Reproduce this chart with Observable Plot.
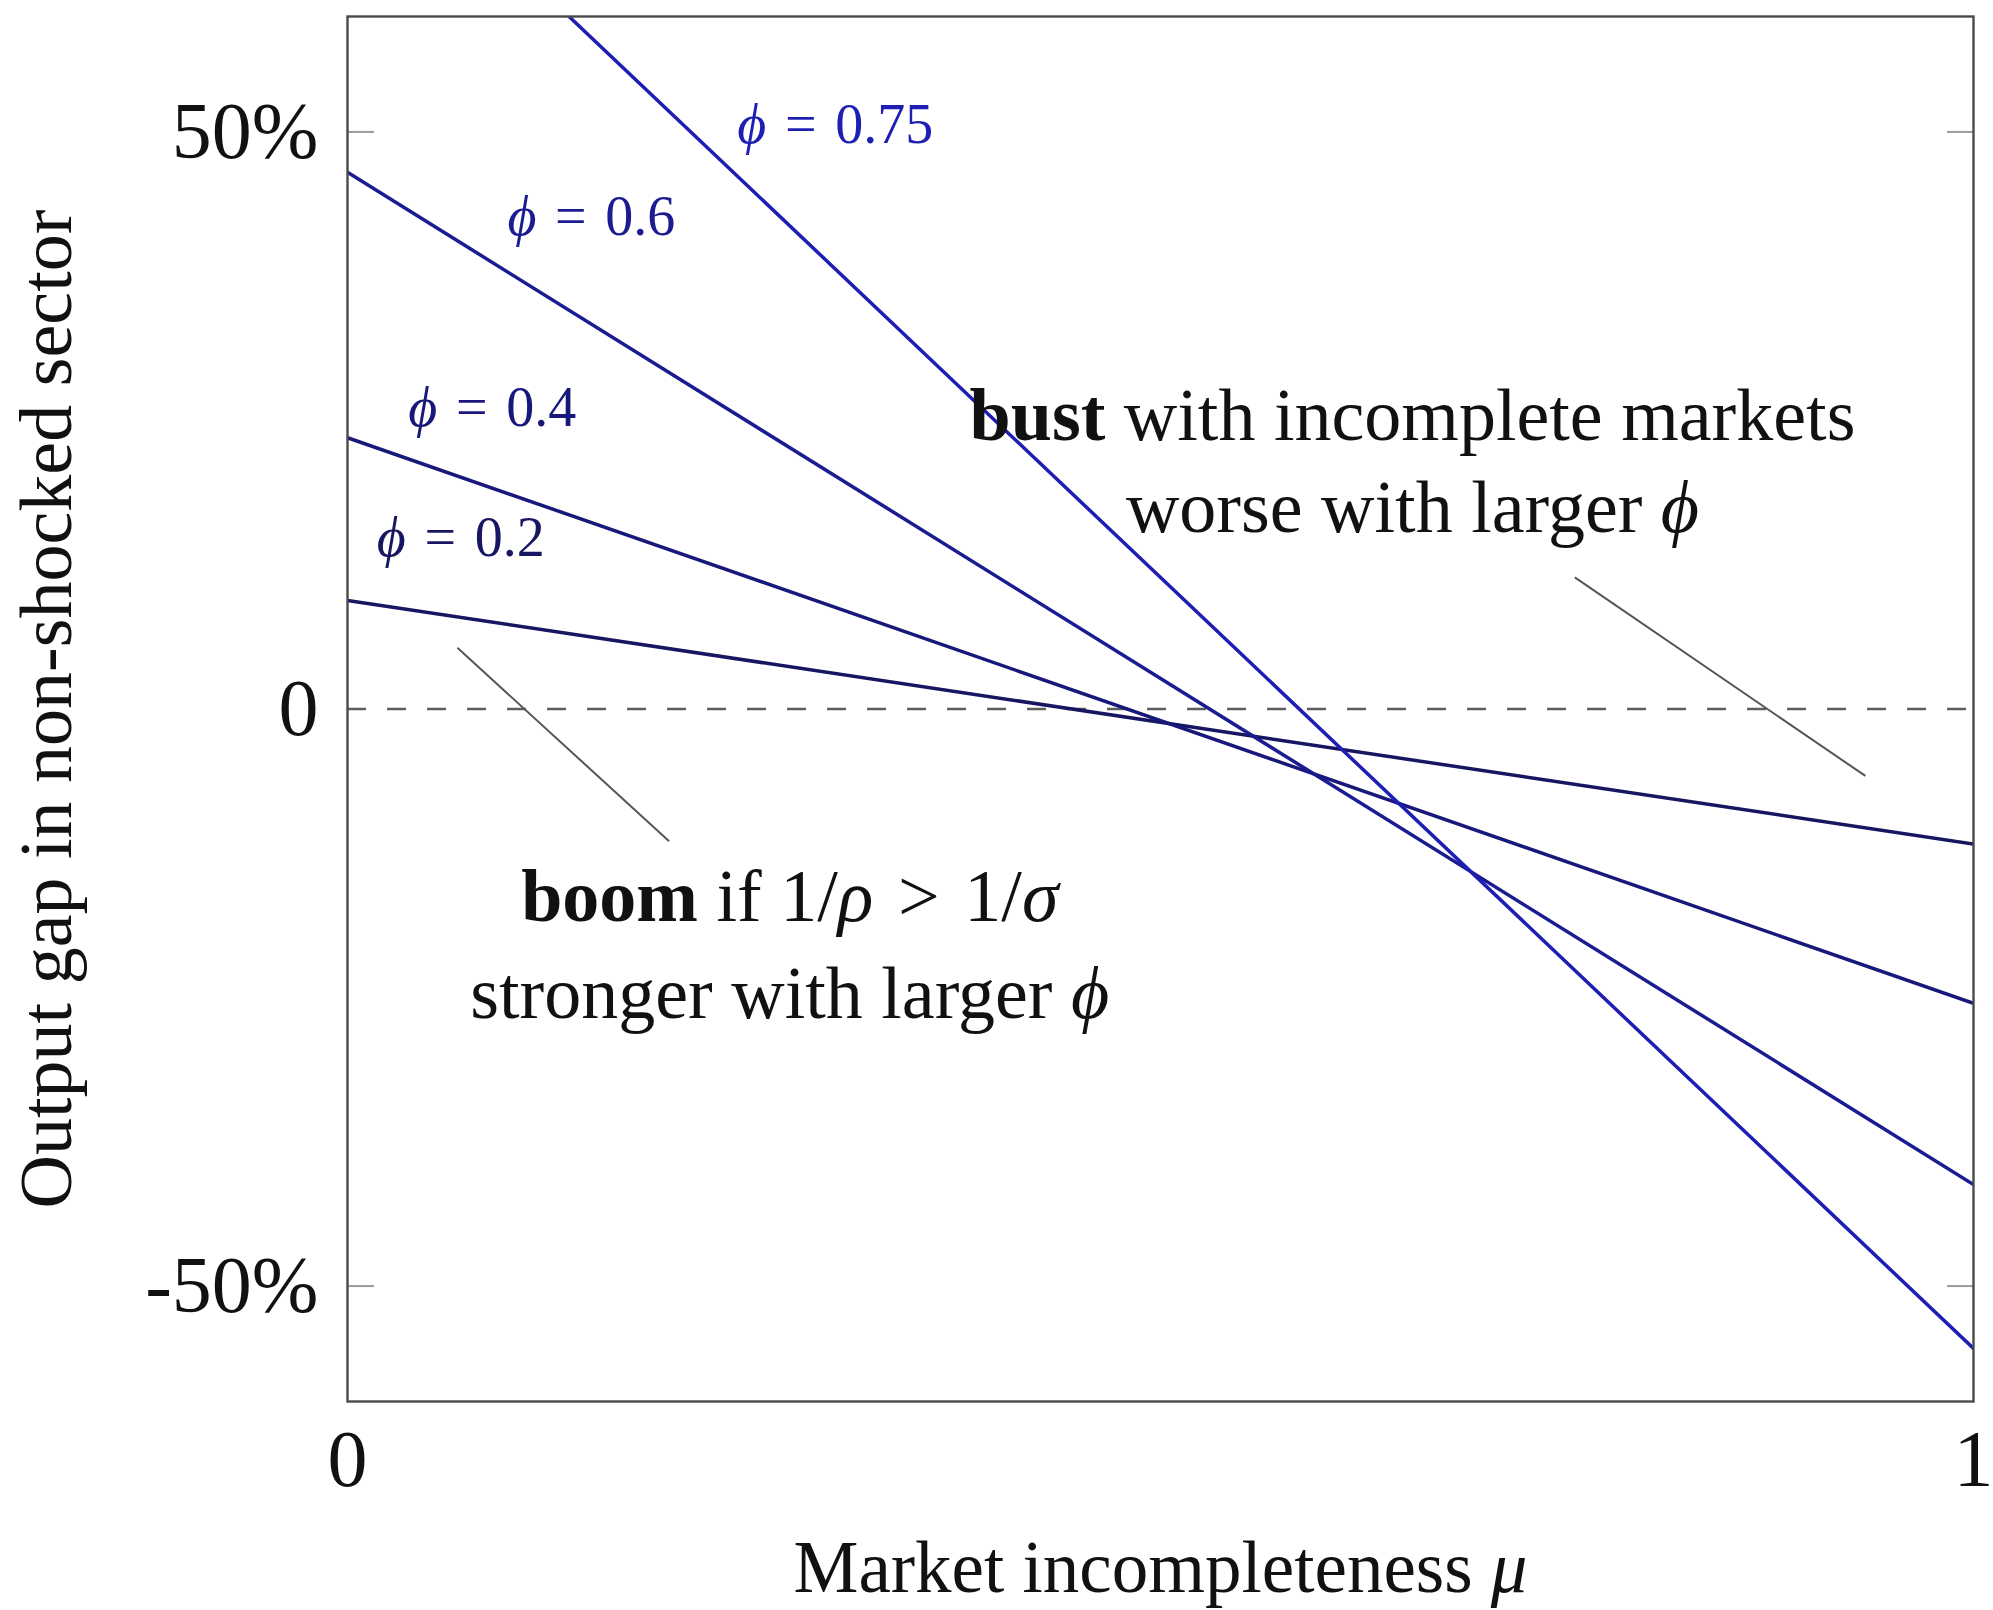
<!DOCTYPE html>
<html>
<head>
<meta charset="utf-8">
<script src="https://cdn.jsdelivr.net/npm/d3@7"></script>
<script src="https://cdn.jsdelivr.net/npm/@observablehq/plot@0.6"></script>
<style>
  html, body { margin: 0; padding: 0; background: #fff; }
  #chart { width: 1993px; height: 1610px; }
</style>
</head>
<body>
<div id="chart"></div>
<script>
// Market incompleteness μ at both ends of the axis
const mu = [0, 1];

// Parameter ϕ of each line
const phis = [0.2, 0.4, 0.6, 0.75];

// Output gap in the non-shocked sector (%) at μ = 0 and μ = 1
const gapPhi020 = [9.4, -11.7];
const gapPhi040 = [23.5, -25.5];
const gapPhi060 = [46.5, -41.2];
const gapPhi075 = [78.2, -55.4];

// Axis ticks
const yTicks = [-50, 0, 50];
const yTickLabels = ["-50%", "0", "50%"];
const yTickMarks = [-50, 50];
const xTicks = [0, 1];
const xTickLabels = ["0", "1"];

// Line labels (ϕ values) and where they sit
const phiLabelText = ["_ϕ_\u2004=\u20040.2", "_ϕ_\u2004=\u20040.4", "_ϕ_\u2004=\u20040.6", "_ϕ_\u2004=\u20040.75"];
const phiLabelMu = [0.0696, 0.089, 0.150, 0.300];
const phiLabelGap = [14.8, 26.1, 42.6, 50.6];

// Annotation text and placement
const noteText = [
  "**bust** with incomplete markets",
  "worse with larger _ϕ_",
  "**boom** if 1/_ρ_\u2004>\u20041/_σ_",
  "stronger with larger _ϕ_"
];
const noteMu = [0.655, 0.655, 0.272, 0.272];
const noteGap = [25.4, 17.4, -16.3, -24.7];

// Pointer strokes from the annotations towards the lines
const pointerMu1 = [0.0676, 0.7548];
const pointerGap1 = [5.3, 11.4];
const pointerMu2 = [0.1978, 0.9335];
const pointerGap2 = [-11.45, -5.8];

const xTitle = "Market incompleteness _μ_";
const yTitle = "Output gap in non-shocked sector";

// Styling
const lineColors = ["#161662", "#18187a", "#1b1b92", "#1e1eb4"];
const serif = "'Liberation Serif', 'DejaVu Serif', serif";

const series = [gapPhi020, gapPhi040, gapPhi060, gapPhi075];
const lines = phis.flatMap((phi, i) => mu.map((m, j) => ({phi, mu: m, gap: series[i][j]})));
const phiLabels = phis.map((phi, i) => ({phi, mu: phiLabelMu[i], gap: phiLabelGap[i], text: phiLabelText[i]}));
const notes = noteText.map((text, i) => ({text, mu: noteMu[i], gap: noteGap[i]}));
const pointers = pointerMu1.map((m, i) => ({x1: m, y1: pointerGap1[i], x2: pointerMu2[i], y2: pointerGap2[i]}));

const chart = Plot.plot({
  width: 1993,
  height: 1610,
  marginLeft: 347,
  marginRight: 20,
  marginTop: 16,
  marginBottom: 209,
  style: {fontFamily: serif, background: "#fff", color: "#111"},
  x: {domain: [0, 1], axis: null},
  y: {domain: [-60, 60]},
  color: {type: "ordinal", domain: phis, range: lineColors},
  marks: [
    // inward tick marks on both vertical sides
    Plot.axisY({anchor: "left", ticks: yTickMarks, tickSize: -27, tickFormat: () => "", label: null, stroke: "#9a9a9a", strokeWidth: 2}),
    Plot.axisY({anchor: "right", ticks: yTickMarks, tickSize: -27, tickFormat: () => "", label: null, stroke: "#9a9a9a", strokeWidth: 2}),
    // zero reference line
    Plot.ruleY([0], {stroke: "#5e5e5e", strokeWidth: 2.6, strokeDasharray: "19,21"}),
    // output gap lines, one per ϕ
    Plot.line(lines, {x: "mu", y: "gap", z: "phi", stroke: "phi", strokeWidth: 3.5, clip: true}),
    // pointers
    Plot.link(pointers, {x1: "x1", y1: "y1", x2: "x2", y2: "y2", stroke: "#555", strokeWidth: 2}),
    Plot.frame({stroke: "#4a4a4a", strokeWidth: 2.4}),
    // ϕ labels
    Plot.text(phiLabels, {x: "mu", y: "gap", text: "text", fill: "phi", fontSize: 56, textAnchor: "middle", lineAnchor: "middle"}),
    // annotations
    Plot.text(notes, {x: "mu", y: "gap", text: "text", fill: "#111", fontSize: 74, textAnchor: "middle", lineAnchor: "middle"}),
    // tick labels
    Plot.text(yTicks, {y: d => d, text: (d, i) => yTickLabels[i], frameAnchor: "left", textAnchor: "end", lineAnchor: "middle", dx: -29, fontSize: 80, fill: "#111"}),
    Plot.text(xTicks, {x: d => d, text: (d, i) => xTickLabels[i], frameAnchor: "bottom", lineAnchor: "middle", dy: 59, fontSize: 80, fill: "#111"}),
    // axis titles
    Plot.text([xTitle], {text: d => d, frameAnchor: "bottom", textAnchor: "middle", lineAnchor: "middle", dy: 167, fontSize: 73, fill: "#111"}),
    Plot.text([yTitle], {text: d => d, frameAnchor: "left", textAnchor: "middle", lineAnchor: "middle", rotate: -90, dx: -300, fontSize: 74, fill: "#111"})
  ]
});

// Turn **bold** and _italic_ markers into tspans
function richText(svg) {
  svg.querySelectorAll("text").forEach(t => {
    const s = t.textContent;
    if (!/\*\*|_/.test(s)) return;
    const parts = s.split(/(\*\*[^*]+\*\*|_[^_]+_)/).filter(p => p.length);
    t.textContent = "";
    for (const p of parts) {
      const ts = document.createElementNS("http://www.w3.org/2000/svg", "tspan");
      if (p.startsWith("**")) {
        ts.textContent = p.slice(2, -2);
        ts.setAttribute("font-weight", "bold");
      } else if (p.startsWith("_")) {
        ts.textContent = p.slice(1, -1);
        ts.setAttribute("font-style", "italic");
      } else {
        ts.textContent = p;
      }
      t.appendChild(ts);
    }
  });
}
richText(chart);
document.getElementById("chart").appendChild(chart);
</script>
</body>
</html>
